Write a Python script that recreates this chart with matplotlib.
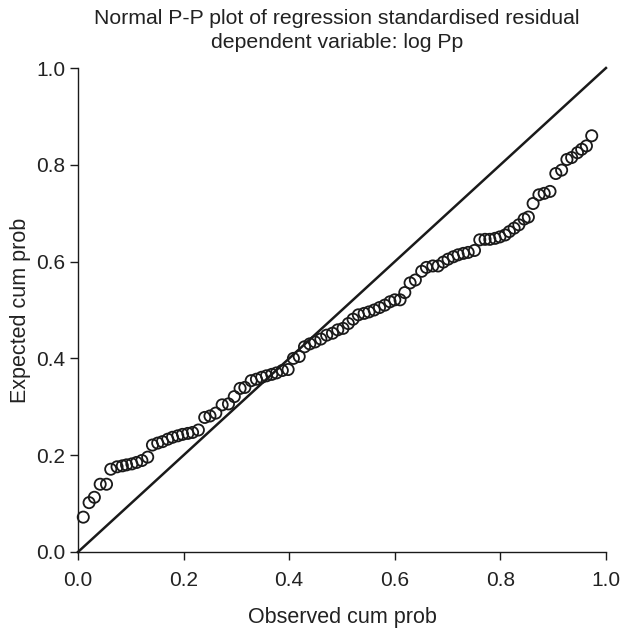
import matplotlib
matplotlib.use("Agg")
import matplotlib.pyplot as plt

plt.rcParams['font.family'] = ['Liberation Sans', 'DejaVu Sans']

observed = [0.010, 0.021, 0.031, 0.042, 0.054, 0.062, 0.074, 0.084, 0.092, 0.102,
            0.111, 0.121, 0.132, 0.141, 0.151, 0.160, 0.170, 0.179, 0.189, 0.198,
            0.208, 0.217, 0.228, 0.240, 0.250, 0.261, 0.273, 0.285, 0.296, 0.307,
            0.316, 0.328, 0.338, 0.348, 0.357, 0.367, 0.376, 0.387, 0.398, 0.408,
            0.419, 0.429, 0.439, 0.449, 0.460, 0.471, 0.482, 0.492, 0.502, 0.512,
            0.521, 0.531, 0.542, 0.551, 0.561, 0.571, 0.581, 0.591, 0.600, 0.610,
            0.619, 0.629, 0.639, 0.651, 0.660, 0.672, 0.682, 0.692, 0.701, 0.711,
            0.720, 0.730, 0.739, 0.751, 0.761, 0.771, 0.780, 0.790, 0.799, 0.809,
            0.817, 0.826, 0.835, 0.845, 0.853, 0.862, 0.873, 0.883, 0.894, 0.905,
            0.916, 0.926, 0.935, 0.946, 0.954, 0.963, 0.973]
expected = [0.072, 0.102, 0.113, 0.140, 0.140, 0.171, 0.176, 0.178, 0.180, 0.182,
            0.185, 0.189, 0.196, 0.221, 0.225, 0.228, 0.233, 0.237, 0.240, 0.243,
            0.245, 0.247, 0.252, 0.278, 0.281, 0.287, 0.304, 0.306, 0.321, 0.338,
            0.340, 0.354, 0.357, 0.361, 0.364, 0.367, 0.370, 0.375, 0.377, 0.400,
            0.404, 0.424, 0.430, 0.434, 0.440, 0.448, 0.452, 0.459, 0.462, 0.472,
            0.481, 0.490, 0.493, 0.496, 0.500, 0.505, 0.510, 0.517, 0.521, 0.521,
            0.536, 0.556, 0.562, 0.580, 0.588, 0.591, 0.591, 0.599, 0.605, 0.610,
            0.614, 0.617, 0.619, 0.623, 0.645, 0.646, 0.646, 0.648, 0.651, 0.655,
            0.662, 0.669, 0.676, 0.688, 0.692, 0.720, 0.738, 0.741, 0.745, 0.782,
            0.789, 0.811, 0.815, 0.825, 0.832, 0.839, 0.860]
ref_line = [0.0, 1.0]
ticks = [0.0, 0.2, 0.4, 0.6, 0.8, 1.0]
tick_labels = ["0.0", "0.2", "0.4", "0.6", "0.8", "1.0"]

fig = plt.figure(figsize=(6.21, 6.32), dpi=100)
ax = fig.add_axes([0.1256, 0.1266, 0.8502, 0.7658])

ax.plot(ref_line, ref_line, color='#1a1a1a', lw=1.8, zorder=2, clip_on=False)
ax.scatter(observed, expected, s=65, facecolors='none', edgecolors='#1a1a1a',
           linewidths=1.3, zorder=3, clip_on=False)

ax.set_xlim(0, 1)
ax.set_ylim(0, 1)
ax.set_xticks(ticks)
ax.set_xticklabels(tick_labels)
ax.set_yticks(ticks)
ax.set_yticklabels(tick_labels)
for s in ['top', 'right']:
    ax.spines[s].set_visible(False)
for s in ['left', 'bottom']:
    ax.spines[s].set_linewidth(1.0)
    ax.spines[s].set_color('#1a1a1a')
ax.tick_params(direction='out', length=6, width=1.0, colors='#1a1a1a',
               labelsize=15, labelcolor='#222222')
ax.tick_params(axis='x', pad=8)
ax.tick_params(axis='y', pad=3)

ax.set_xlabel("Observed cum prob", fontsize=15.5, color='#222222', labelpad=12)
ax.set_ylabel("Expected cum prob", fontsize=15.5, color='#222222', labelpad=4)
fig.text(0.543, 0.971, "Normal P-P plot of regression standardised residual",
         ha='center', va='center', fontsize=15.3, color='#222222')
fig.text(0.543, 0.933, "dependent variable: log Pp",
         ha='center', va='center', fontsize=15.3, color='#222222')

fig.savefig("out.png", dpi=100)
